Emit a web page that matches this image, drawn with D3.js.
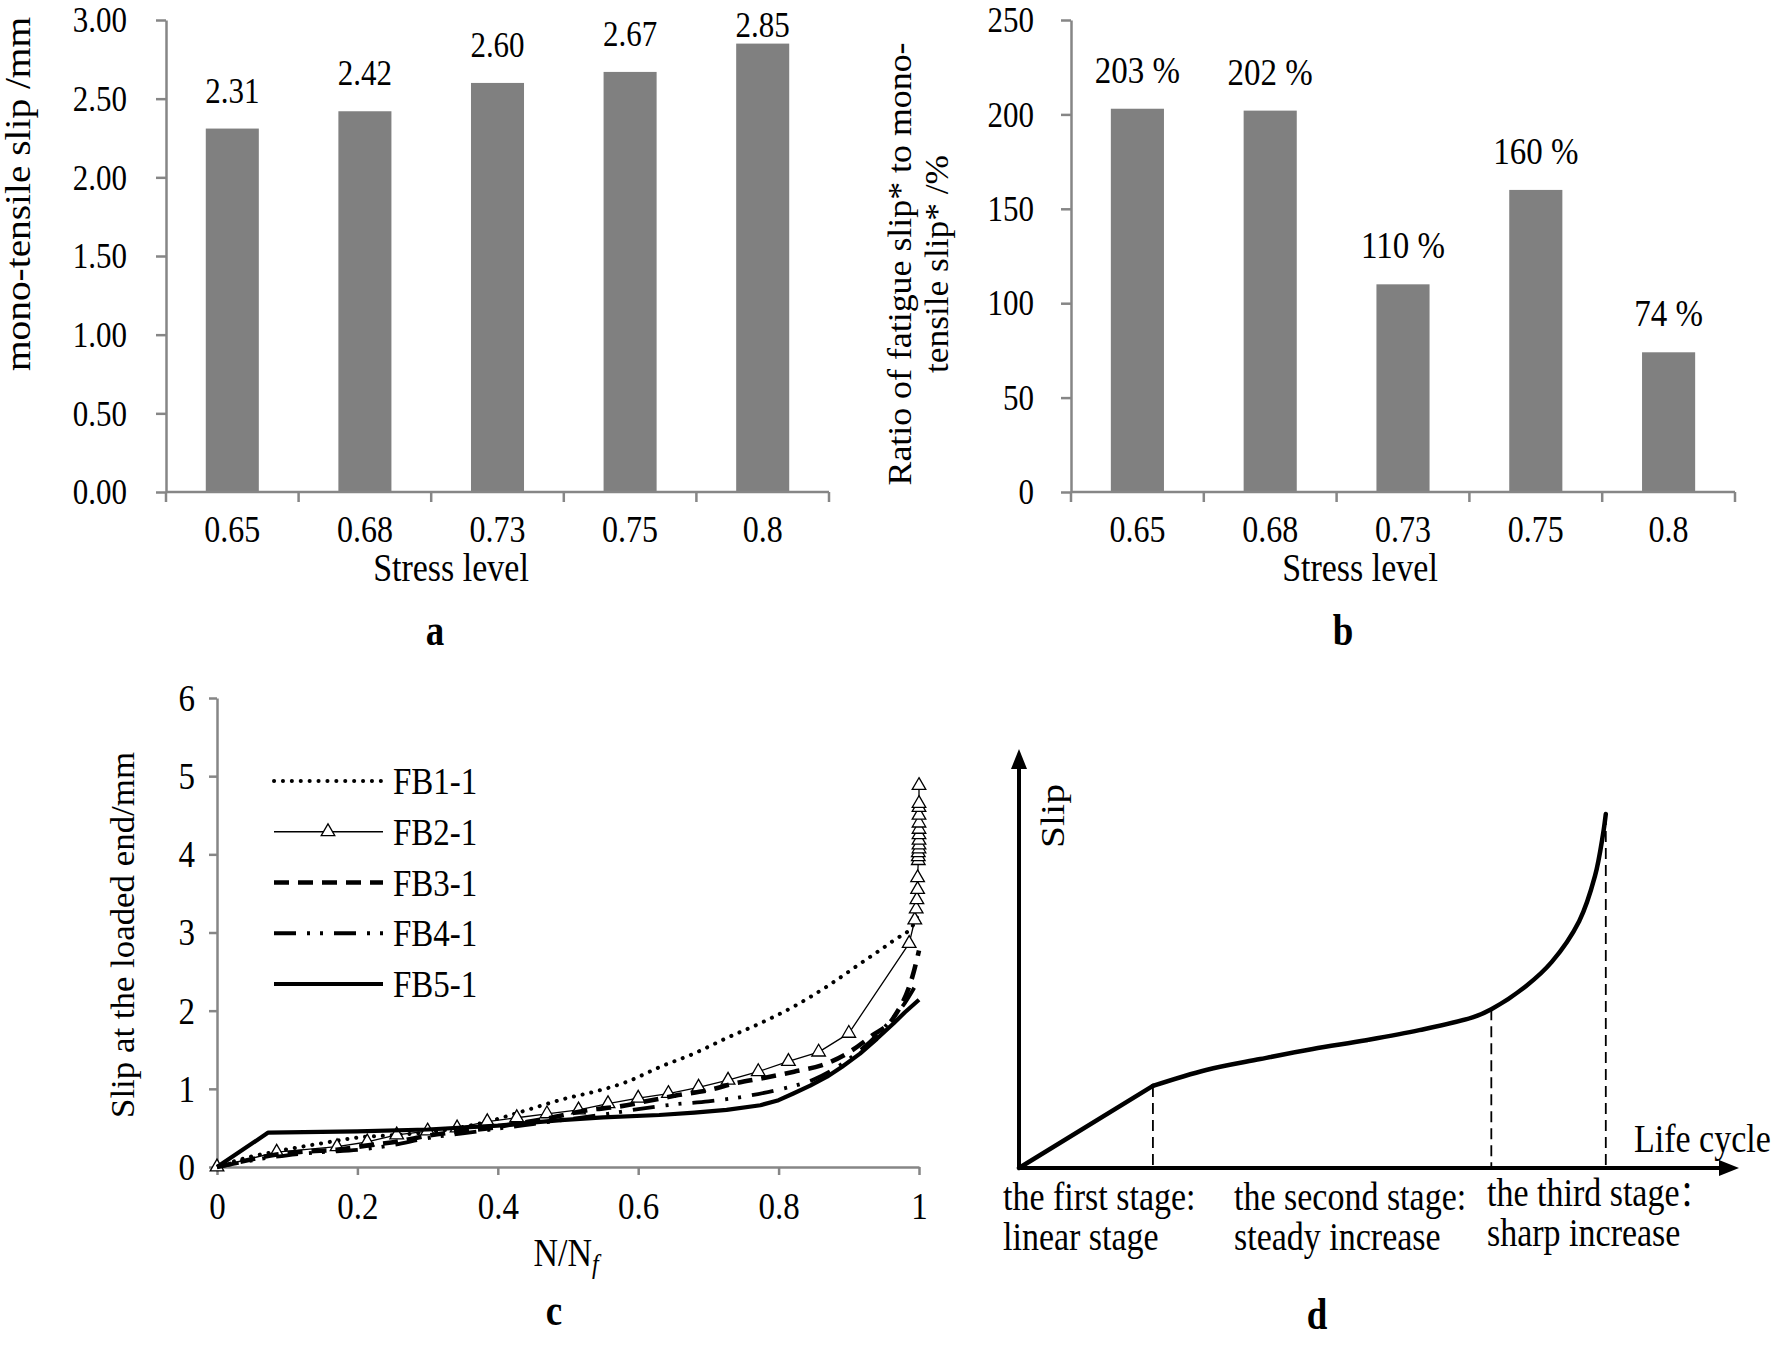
<!DOCTYPE html>
<html><head><meta charset="utf-8">
<script src="https://cdn.jsdelivr.net/npm/d3@7"></script>
<style>
html,body{margin:0;padding:0;background:#fff;}
svg{display:block;}
text{font-family:"Liberation Serif","Times New Roman",serif;fill:#000;}
</style></head><body>
<svg id="fig" width="1773" height="1345"></svg>
<script>
// ---------- DATA ----------
const stressLevels = ["0.65", "0.68", "0.73", "0.75", "0.8"];
const monoTensileSlip = [2.31, 2.42, 2.60, 2.67, 2.85];
const slipRatioPct = [203, 202, 110, 160, 74];
const slipTicks = [0, 0.5, 1, 1.5, 2, 2.5, 3];
const ratioTicks = [0, 50, 100, 150, 200, 250];

const seriesNames = ["FB1-1", "FB2-1", "FB3-1", "FB4-1", "FB5-1"];
const fb1X = [0, 0.047, 0.085, 0.147, 0.204, 0.256, 0.323, 0.385, 0.442, 0.494, 0.536, 0.584, 0.631, 0.679, 0.726, 0.774, 0.821, 0.869, 0.916, 0.964, 0.992, 1.0];
const fb1Y = [0, 0.13, 0.2, 0.3, 0.38, 0.41, 0.47, 0.58, 0.73, 0.87, 0.96, 1.09, 1.28, 1.45, 1.65, 1.84, 2.05, 2.31, 2.6, 2.9, 3.1, 3.25];
const fb2X = [0, 0.085, 0.171, 0.214, 0.256, 0.3, 0.342, 0.385, 0.427, 0.47, 0.515, 0.557, 0.6, 0.643, 0.686, 0.728, 0.771, 0.814, 0.857, 0.9, 0.986, 0.994, 0.996, 0.997, 0.998, 0.998, 0.999, 0.999, 0.999, 1, 1, 1, 1, 1, 1, 1, 1, 1, 1];
const fb2Y = [0, 0.19, 0.26, 0.32, 0.41, 0.46, 0.5, 0.58, 0.63, 0.68, 0.73, 0.81, 0.88, 0.94, 1.02, 1.11, 1.22, 1.35, 1.47, 1.71, 2.86, 3.16, 3.3, 3.42, 3.55, 3.7, 3.92, 3.97, 4.02, 4.07, 4.12, 4.18, 4.25, 4.32, 4.4, 4.5, 4.6, 4.65, 4.88];
const fb3X = [0, 0.04, 0.085, 0.13, 0.17, 0.21, 0.26, 0.3, 0.34, 0.39, 0.43, 0.47, 0.53, 0.57, 0.617, 0.657, 0.698, 0.738, 0.779, 0.822, 0.861, 0.897, 0.933, 0.963, 0.992, 1.0];
const fb3Y = [0, 0.08, 0.16, 0.2, 0.22, 0.27, 0.33, 0.4, 0.45, 0.5, 0.56, 0.62, 0.73, 0.77, 0.85, 0.92, 0.98, 1.07, 1.14, 1.22, 1.3, 1.45, 1.68, 1.9, 2.48, 2.77];
const fb4X = [0, 0.06, 0.1, 0.15, 0.2, 0.25, 0.3, 0.35, 0.4, 0.45, 0.5, 0.55, 0.6, 0.65, 0.7, 0.75, 0.8, 0.85, 0.9, 0.95, 0.98, 1.0];
const fb4Y = [0, 0.1, 0.15, 0.19, 0.22, 0.28, 0.37, 0.43, 0.49, 0.55, 0.61, 0.67, 0.74, 0.8, 0.84, 0.9, 0.99, 1.12, 1.38, 1.78, 2.1, 2.4];
const fb5X = [0, 0.073, 0.2, 0.3, 0.4, 0.49, 0.55, 0.63, 0.68, 0.726, 0.774, 0.8, 0.821, 0.845, 0.869, 0.89, 0.916, 0.94, 0.964, 0.98, 1.0];
const fb5Y = [0, 0.44, 0.455, 0.48, 0.53, 0.6, 0.635, 0.665, 0.695, 0.73, 0.79, 0.855, 0.94, 1.04, 1.155, 1.28, 1.45, 1.64, 1.84, 1.98, 2.14];
const cycleTicks = [0, 0.2, 0.4, 0.6, 0.8, 1];
const cSlipTicks = [0, 1, 2, 3, 4, 5, 6];

const stageCurveX = [0, 0.186, 0.260, 0.335, 0.408, 0.482, 0.556, 0.631, 0.656, 0.704, 0.740, 0.778, 0.800, 0.811, 0.815];
const stageCurveY = [0, 0.196, 0.234, 0.260, 0.284, 0.305, 0.329, 0.360, 0.379, 0.434, 0.492, 0.589, 0.697, 0.795, 0.845];
const stageBounds = [0.186, 0.656, 0.815];
const stageLabels = [["the first stage:", "linear stage"], ["the second stage:", "steady increase"], ["the third stage", "sharp increase"]];

// ---------- DRAW ----------
const svg = d3.select("#fig");
const AXIS = "#868686";
const SY = 1.18; // vertical glyph stretch of the original figure

function T(g, x, y, str, o = {}) {
  const t = g.append("text")
    .attr("transform", `translate(${x},${y})` + (o.rot ? ` rotate(${o.rot})` : ` scale(1,${o.sy || SY})`))
    .attr("font-size", o.fs || 32).attr("text-anchor", o.anchor || "start");
  if (o.bold) t.attr("font-weight", "bold");
  if (o.len) t.attr("textLength", o.len).attr("lengthAdjust", "spacingAndGlyphs");
  t.text(str);
  return t;
}
function styleAxis(g, fs) {
  g.select(".domain").attr("stroke", AXIS).attr("stroke-width", 2.5);
  g.selectAll(".tick line").attr("stroke", AXIS).attr("stroke-width", 2.5);
  g.selectAll(".tick text").attr("font-size", fs).attr("fill", "#000").attr("transform", `scale(1,${SY})`);
}

function barPanel(o) {
  const g = svg.append("g");
  const x = d3.scaleBand().domain(stressLevels).range([o.left, o.right]).paddingInner(0.6).paddingOuter(0.3);
  const y = d3.scaleLinear().domain([0, o.max]).range([o.bottom, o.top]);
  g.selectAll("rect.bar").data(o.values).join("rect")
    .attr("x", (d, i) => x(stressLevels[i])).attr("y", d => y(d))
    .attr("width", x.bandwidth()).attr("height", d => y(0) - y(d)).attr("fill", "#808080");
  const ya = g.append("g").attr("transform", `translate(${o.left},0)`)
    .call(d3.axisLeft(y).tickValues(o.ticks).tickFormat(o.tickFmt).tickSize(10).tickSizeOuter(0).tickPadding(o.yPad));
  styleAxis(ya, 31);
  g.append("line").attr("x1", o.left).attr("x2", o.right).attr("y1", y(0)).attr("y2", y(0))
    .attr("stroke", AXIS).attr("stroke-width", 2.5);
  const step = x.step();
  g.selectAll("line.bt").data(d3.range(stressLevels.length + 1)).join("line")
    .attr("x1", i => o.left + i * step).attr("x2", i => o.left + i * step)
    .attr("y1", y(0)).attr("y2", y(0) + 10).attr("stroke", AXIS).attr("stroke-width", 2.5);
  g.selectAll("text.xl").data(stressLevels).join("text")
    .attr("transform", d => `translate(${x(d) + x.bandwidth() / 2},542) scale(1,${SY})`)
    .attr("text-anchor", "middle").attr("font-size", 32).text(d => d);
  g.selectAll("text.vl").data(o.values).join("text")
    .attr("transform", (d, i) => `translate(${x(stressLevels[i]) + x.bandwidth() / 2},${Math.max(y(d) - 26, 37)}) scale(1,${SY})`)
    .attr("text-anchor", "middle").attr("font-size", o.labelFs).text(o.labelFmt);
  T(g, o.xTitleX, 581, "Stress level", {fs: 34, anchor: "middle"});
  T(g, o.panelX, 645, o.panel, {fs: 37, anchor: "middle", bold: true});
  return g;
}

const gA = barPanel({left: 166, right: 829, top: 20, bottom: 492, max: 3, values: monoTensileSlip,
  ticks: slipTicks, tickFmt: d3.format(".2f"), yPad: 29, labelFs: 31, labelFmt: d3.format(".2f"),
  xTitleX: 451, panelX: 435, panel: "a"});
T(gA, 30, 194, "mono-tensile slip /mm", {fs: 35, anchor: "middle", rot: -90, len: 354});

const gB = barPanel({left: 1071, right: 1735, top: 20, bottom: 492, max: 250, values: slipRatioPct,
  ticks: ratioTicks, tickFmt: d3.format("d"), yPad: 27, labelFs: 33, labelFmt: d => d + " %",
  xTitleX: 1360, panelX: 1343, panel: "b"});
T(gB, 911, 264, "Ratio of fatigue slip* to mono-", {fs: 34, anchor: "middle", rot: -90, len: 443});
T(gB, 948, 264, "tensile slip* /%", {fs: 34, anchor: "middle", rot: -90, len: 218});

// ---------- panel c ----------
const gC = svg.append("g");
const cx = d3.scaleLinear().domain([0, 1]).range([217, 919]);
const cy = d3.scaleLinear().domain([0, 6]).range([1167, 698]);
const cxa = gC.append("g").attr("transform", "translate(0,1167)")
  .call(d3.axisBottom(cx).tickValues(cycleTicks).tickFormat(d => String(+d.toFixed(1))).tickSize(8).tickSizeOuter(0).tickPadding(12.5));
styleAxis(cxa, 33);
const cya = gC.append("g").attr("transform", "translate(217,0)")
  .call(d3.axisLeft(cy).tickValues(cSlipTicks).tickFormat(d3.format("d")).tickSize(8).tickSizeOuter(0).tickPadding(14));
styleAxis(cya, 33);

const seriesX = [fb1X, fb2X, fb3X, fb4X, fb5X];
const seriesY = [fb1Y, fb2Y, fb3Y, fb4Y, fb5Y];
const styles = [
  {w: 4, dash: "0.1 8.8", cap: "round", curve: d3.curveMonotoneX},
  {w: 1.3, dash: null, cap: "butt", curve: d3.curveLinear},
  {w: 4.6, dash: "15 9", cap: "butt", curve: d3.curveMonotoneX},
  {w: 3.8, dash: "22 11 3 10 3 11", cap: "butt", curve: d3.curveMonotoneX},
  {w: 4.2, dash: null, cap: "butt", curve: d3.curveLinear}
];
const tri = d3.symbol(d3.symbolTriangle, 80)();
seriesNames.forEach((name, k) => {
  const pts = seriesX[k].map((v, i) => [v, seriesY[k][i]]);
  const st = styles[k];
  gC.append("path").datum(pts)
    .attr("d", d3.line().x(d => cx(d[0])).y(d => cy(d[1])).curve(st.curve))
    .attr("fill", "none").attr("stroke", "#000").attr("stroke-width", st.w)
    .attr("stroke-dasharray", st.dash).attr("stroke-linecap", st.cap).attr("stroke-linejoin", "round");
  if (k === 1) {
    gC.selectAll("path.mk").data(pts).join("path")
      .attr("transform", d => `translate(${cx(d[0])},${cy(d[1])})`)
      .attr("d", tri).attr("fill", "#fff").attr("stroke", "#000").attr("stroke-width", 1.3);
  }
});
// legend
const legY = d3.scaleLinear().domain([0, 4]).range([781, 984]);
seriesNames.forEach((name, k) => {
  const st = styles[k];
  const yy = legY(k);
  gC.append("line").attr("x1", 274).attr("x2", 383).attr("y1", yy).attr("y2", yy)
    .attr("stroke", "#000").attr("stroke-width", st.w).attr("stroke-dasharray", st.dash)
    .attr("stroke-linecap", st.cap);
  if (k === 1) {
    gC.append("path").attr("transform", `translate(328,${yy})`).attr("d", tri)
      .attr("fill", "#fff").attr("stroke", "#000").attr("stroke-width", 1.3);
  }
  T(gC, 393, yy + 13, name, {fs: 33});
});
T(gC, 134, 935, "Slip at the loaded end/mm", {fs: 33, anchor: "middle", rot: -90, len: 366});
const nt = gC.append("text").attr("transform", `translate(566,1266) scale(1,${SY})`).attr("text-anchor", "middle").attr("font-size", 34);
nt.append("tspan").text("N/N");
nt.append("tspan").attr("font-style", "italic").attr("font-size", 24).attr("dy", 6).text("f");
T(gC, 554, 1325, "c", {fs: 37, anchor: "middle", bold: true});

// ---------- panel d ----------
const gD = svg.append("g");
const dx = d3.scaleLinear().domain([0, 1]).range([1019, 1739]);
const dy = d3.scaleLinear().domain([0, 1]).range([1168, 749]);
gD.selectAll("line.sb").data(stageBounds).join("line")
  .attr("x1", d => dx(d)).attr("x2", d => dx(d))
  .attr("y1", d => dy(d3.max(stageCurveX.map((v, i) => v <= d + 1e-9 ? stageCurveY[i] : 0))))
  .attr("y2", dy(0)).attr("stroke", "#000").attr("stroke-width", 1.8).attr("stroke-dasharray", "11 6");
gD.append("line").attr("x1", dx(0)).attr("x2", dx(1) - 16).attr("y1", dy(0)).attr("y2", dy(0))
  .attr("stroke", "#000").attr("stroke-width", 4);
gD.append("line").attr("x1", dx(0)).attr("x2", dx(0)).attr("y1", dy(0)).attr("y2", dy(1) + 16)
  .attr("stroke", "#000").attr("stroke-width", 4);
gD.append("path").attr("d", `M${dx(1)},${dy(0)} L${dx(1) - 20},${dy(0) - 8} L${dx(1) - 20},${dy(0) + 8} Z`).attr("fill", "#000");
gD.append("path").attr("d", `M${dx(0)},${dy(1)} L${dx(0) - 8},${dy(1) + 20} L${dx(0) + 8},${dy(1) + 20} Z`).attr("fill", "#000");
const curvePts = stageCurveX.map((v, i) => [v, stageCurveY[i]]);
gD.append("path").datum(curvePts.slice(0, 2))
  .attr("d", d3.line().x(d => dx(d[0])).y(d => dy(d[1])))
  .attr("fill", "none").attr("stroke", "#000").attr("stroke-width", 4.5).attr("stroke-linecap", "round");
gD.append("path").datum(curvePts.slice(1))
  .attr("d", d3.line().x(d => dx(d[0])).y(d => dy(d[1])).curve(d3.curveCatmullRom))
  .attr("fill", "none").attr("stroke", "#000").attr("stroke-width", 4.5).attr("stroke-linecap", "round");
T(gD, 1064, 816, "Slip", {fs: 34, anchor: "middle", rot: -90, len: 64});
T(gD, 1634, 1152, "Life cycle", {fs: 34});
const labX = [1003, 1234, 1487];
const labY0 = [1210, 1210, 1206];
const stagePunct = [":", ":", "\uFF1A"];
stageLabels.forEach((ls, k) => {
  ls.forEach((t, j) => {
    const tt = gD.append("text").attr("transform", `translate(${labX[k]},${labY0[k] + j * 40}) scale(1,${SY})`).attr("font-size", 34);
    if (j === 0 && k < 2) { tt.text(t); }
    else if (j === 0) {
      tt.append("tspan").text(t);
      tt.append("tspan").attr("font-family", "'Noto Sans CJK SC'").attr("font-size", 30).text(stagePunct[k]);
    } else { tt.text(t); }
  });
});
T(gD, 1317, 1329, "d", {fs: 37, anchor: "middle", bold: true});
</script>
</body></html>
